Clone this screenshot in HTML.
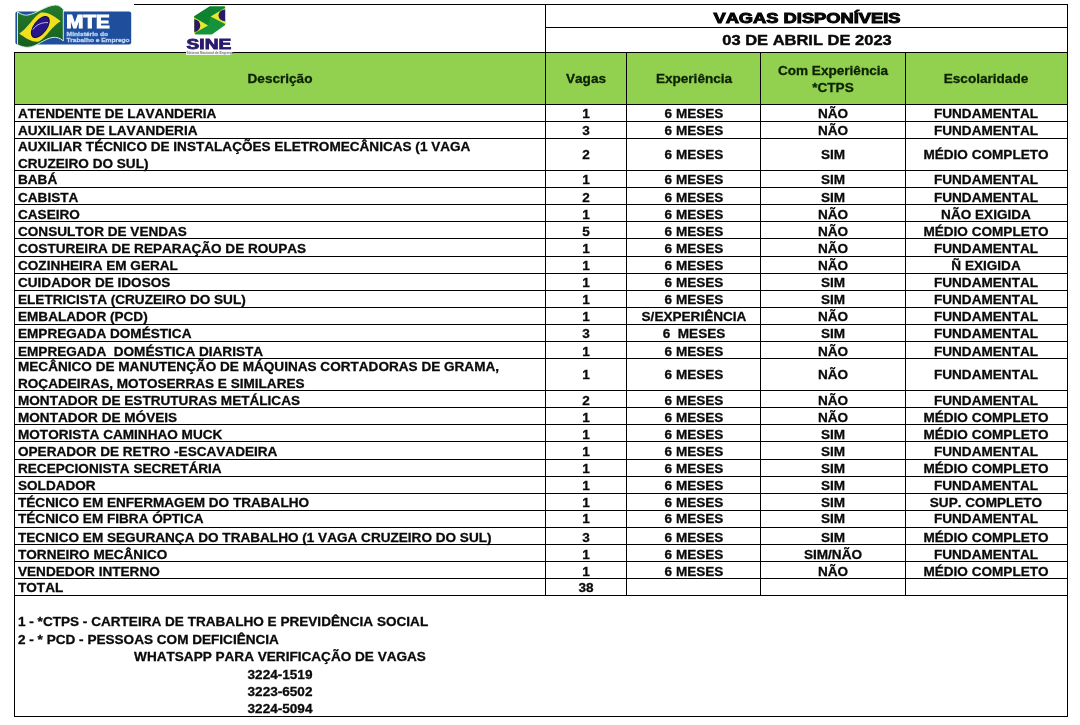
<!DOCTYPE html>
<html><head><meta charset="utf-8"><title>Vagas Disponíveis</title>
<style>
html,body{margin:0;padding:0;background:#fff}
body{width:1080px;height:725px;position:relative;overflow:hidden;font-family:"Liberation Sans",Arial,sans-serif;font-weight:bold;color:#0a0a0a;-webkit-text-stroke:0.3px currentColor}
.ln{position:absolute}
.t{font-kerning:none;position:absolute;white-space:nowrap;line-height:16px;height:16px}
.l{transform-origin:0 50%}
.c{width:600px;text-align:center;transform-origin:50% 50%}
</style></head><body>
<svg class="ln" style="left:0;top:0" width="260" height="58" viewBox="0 0 260 58" font-family="'Liberation Sans',Arial,sans-serif" font-weight="bold">
<defs><linearGradient id="fg" x1="0" y1="0" x2="0" y2="1"><stop offset="0" stop-color="#237a2b"/><stop offset="1" stop-color="#175e20"/></linearGradient></defs>
<rect x="15.4" y="11.4" width="115.8" height="33" rx="2.2" fill="#1f4e9c"/>
<path d="M17.5 11.8 C21 14.6 24.5 15.6 28 15 C37 13.4 46 5.4 55.5 5 C58.5 5 61 6.8 63.3 9.3 L63.3 40.9 C60 38 56.5 37 53 37.4 C44 38.6 37 46.8 28 47.3 C24 47.4 20.5 46.4 17.5 44.5 Z" fill="url(#fg)" stroke="#cdeee6" stroke-width="1"/>
<path d="M19.2 33.6 C27 29.5 33.5 16.5 41 12.6 C48 11.2 55 16.8 60.8 21.2 C53 25 46 37.5 39 41.6 C32 43 25 37.8 19.2 33.6 Z" fill="#f0e01e"/>
<ellipse cx="40.3" cy="27" rx="12.2" ry="6.3" transform="rotate(-53 40.3 27)" fill="#28178a" stroke="#140b3c" stroke-width="1"/>
<path d="M32.8 29.6 C36 24.8 42 22.2 48 22.6" fill="none" stroke="#cfc3ee" stroke-width="0.9"/>
<text x="66.2" y="27.9" font-size="17.5" fill="#fff" stroke="#fff" stroke-width="1" textLength="43.6" lengthAdjust="spacingAndGlyphs">MTE</text>
<text x="66.6" y="36.1" font-size="5.6" fill="#b9d3f3" stroke="#b9d3f3" stroke-width="0.3" textLength="41.5" lengthAdjust="spacingAndGlyphs">Ministério do</text>
<text x="66.6" y="42.1" font-size="5.6" fill="#b9d3f3" stroke="#b9d3f3" stroke-width="0.3" textLength="63" lengthAdjust="spacingAndGlyphs">Trabalho e Emprego</text>
<!-- SINE -->
<path d="M194.3 16.2 L209.6 6.5 L225.1 6.5 L225.2 25.1 L211.9 34.6 L195.6 34.6 L194.3 32.9 Z" fill="#14933a"/>
<path d="M194.3 16.2 L209.6 6.5 L225.1 6.5 L210.6 16.4 L208.1 25.4 L194.3 17.6 Z" fill="#0f8232"/>
<path d="M225.1 8 L210.6 16.4 L225.1 23.9 Z" fill="#e9e62e"/>
<path d="M225.1 9.5 A6.6 5.9 0 0 0 225.1 21.3 Z" fill="#26186a"/>
<path d="M194.3 17.4 L208.1 25.4 L194.3 33.2 Z" fill="#e9e62e"/>
<path d="M194.3 19.3 A6 6.3 0 0 1 194.3 31.9 Z" fill="#26186a"/>
<text x="186.6" y="48.6" font-size="14.7" fill="#2a1a6e" stroke="#2a1a6e" stroke-width="0.9" textLength="44.6" lengthAdjust="spacingAndGlyphs">SINE</text>
</svg>

<div class="ln" style="left:14.7px;top:52.2px;width:1052.7px;height:52.099999999999994px;background:#92d050"></div>
<div class="ln" style="left:134px;top:3.75px;width:934px;height:1.1px;background:#000"></div>
<div class="ln" style="left:545px;top:27.15px;width:523px;height:1.1px;background:#000"></div>
<div class="ln" style="left:14px;top:51.75px;width:1054px;height:1.1px;background:#000"></div>
<div class="ln" style="left:14px;top:103.75px;width:1054px;height:1.1px;background:#000"></div>
<div class="ln" style="left:14px;top:120.85px;width:1054px;height:1.1px;background:#000"></div>
<div class="ln" style="left:14px;top:138.25px;width:1054px;height:1.1px;background:#000"></div>
<div class="ln" style="left:14px;top:169.85px;width:1054px;height:1.1px;background:#000"></div>
<div class="ln" style="left:14px;top:186.95px;width:1054px;height:1.1px;background:#000"></div>
<div class="ln" style="left:14px;top:204.15px;width:1054px;height:1.1px;background:#000"></div>
<div class="ln" style="left:14px;top:221.15px;width:1054px;height:1.1px;background:#000"></div>
<div class="ln" style="left:14px;top:238.25px;width:1054px;height:1.1px;background:#000"></div>
<div class="ln" style="left:14px;top:255.75px;width:1054px;height:1.1px;background:#000"></div>
<div class="ln" style="left:14px;top:272.75px;width:1054px;height:1.1px;background:#000"></div>
<div class="ln" style="left:14px;top:289.85px;width:1054px;height:1.1px;background:#000"></div>
<div class="ln" style="left:14px;top:306.85px;width:1054px;height:1.1px;background:#000"></div>
<div class="ln" style="left:14px;top:323.75px;width:1054px;height:1.1px;background:#000"></div>
<div class="ln" style="left:14px;top:340.95px;width:1054px;height:1.1px;background:#000"></div>
<div class="ln" style="left:14px;top:357.85px;width:1054px;height:1.1px;background:#000"></div>
<div class="ln" style="left:14px;top:389.95px;width:1054px;height:1.1px;background:#000"></div>
<div class="ln" style="left:14px;top:406.85px;width:1054px;height:1.1px;background:#000"></div>
<div class="ln" style="left:14px;top:424.05px;width:1054px;height:1.1px;background:#000"></div>
<div class="ln" style="left:14px;top:441.25px;width:1054px;height:1.1px;background:#000"></div>
<div class="ln" style="left:14px;top:458.75px;width:1054px;height:1.1px;background:#000"></div>
<div class="ln" style="left:14px;top:475.85px;width:1054px;height:1.1px;background:#000"></div>
<div class="ln" style="left:14px;top:492.85px;width:1054px;height:1.1px;background:#000"></div>
<div class="ln" style="left:14px;top:510.05px;width:1054px;height:1.1px;background:#000"></div>
<div class="ln" style="left:14px;top:526.75px;width:1054px;height:1.1px;background:#000"></div>
<div class="ln" style="left:14px;top:543.85px;width:1054px;height:1.1px;background:#000"></div>
<div class="ln" style="left:14px;top:560.95px;width:1054px;height:1.1px;background:#000"></div>
<div class="ln" style="left:14px;top:578.15px;width:1054px;height:1.1px;background:#000"></div>
<div class="ln" style="left:14px;top:595.05px;width:1054px;height:1.1px;background:#000"></div>
<div class="ln" style="left:14px;top:715.85px;width:1054px;height:1.1px;background:#000"></div>
<div class="ln" style="left:14px;top:52px;width:1px;height:665px;background:#000"></div>
<div class="ln" style="left:1067px;top:4px;width:1px;height:713px;background:#000"></div>
<div class="ln" style="left:545px;top:4px;width:1px;height:592px;background:#000"></div>
<div class="ln" style="left:626px;top:52px;width:1px;height:544px;background:#000"></div>
<div class="ln" style="left:760px;top:52px;width:1px;height:544px;background:#000"></div>
<div class="ln" style="left:905px;top:52px;width:1px;height:544px;background:#000"></div>
<div class="t c" style="left:506.5px;top:9.78px;font-size:14.2px;transform:scaleX(1.29);-webkit-text-stroke:0.95px #000;">VAGAS DISPONÍVEIS</div>
<div class="t c" style="left:506.5px;top:32.31px;font-size:14.7px;transform:scaleX(1.122);-webkit-text-stroke:0.4px #000;">03 DE ABRIL DE 2023</div>
<div class="t c" style="left:-19.9px;top:71.10px;font-size:13.0px;transform:scaleX(1.044);color:#0c2200;">Descrição</div>
<div class="t c" style="left:286.1px;top:71.10px;font-size:13.0px;transform:scaleX(1.044);color:#0c2200;">Vagas</div>
<div class="t c" style="left:393.6px;top:71.10px;font-size:13.0px;transform:scaleX(1.044);color:#0c2200;">Experiência</div>
<div class="t c" style="left:532.9px;top:63.10px;font-size:13.0px;transform:scaleX(1.044);color:#0c2200;">Com Experiência</div>
<div class="t c" style="left:532.9px;top:80.10px;font-size:13.0px;transform:scaleX(1.044);color:#0c2200;">*CTPS</div>
<div class="t c" style="left:686.4px;top:71.10px;font-size:13.0px;transform:scaleX(1.044);color:#0c2200;">Escolaridade</div>
<div class="t l" style="left:17.7px;top:106.20px;font-size:13.0px;transform:scaleX(1.044);">ATENDENTE DE LAVANDERIA</div>
<div class="t c" style="left:286.1px;top:106.20px;font-size:13.0px;transform:scaleX(1.044);">1</div>
<div class="t c" style="left:393.6px;top:106.20px;font-size:13.0px;transform:scaleX(1.044);">6 MESES</div>
<div class="t c" style="left:532.9px;top:106.20px;font-size:13.0px;transform:scaleX(1.044);">NÃO</div>
<div class="t c" style="left:686.4px;top:106.20px;font-size:13.0px;transform:scaleX(1.044);">FUNDAMENTAL</div>
<div class="t l" style="left:17.7px;top:123.40px;font-size:13.0px;transform:scaleX(1.044);">AUXILIAR DE LAVANDERIA</div>
<div class="t c" style="left:286.1px;top:123.40px;font-size:13.0px;transform:scaleX(1.044);">3</div>
<div class="t c" style="left:393.6px;top:123.40px;font-size:13.0px;transform:scaleX(1.044);">6 MESES</div>
<div class="t c" style="left:532.9px;top:123.40px;font-size:13.0px;transform:scaleX(1.044);">NÃO</div>
<div class="t c" style="left:686.4px;top:123.40px;font-size:13.0px;transform:scaleX(1.044);">FUNDAMENTAL</div>
<div class="t l" style="left:17.7px;top:139.30px;font-size:13.0px;transform:scaleX(1.044);">AUXILIAR TÉCNICO DE INSTALAÇÕES ELETROMECÂNICAS (1 VAGA</div>
<div class="t l" style="left:17.7px;top:156.20px;font-size:13.0px;transform:scaleX(1.044);">CRUZEIRO DO SUL)</div>
<div class="t c" style="left:286.1px;top:147.25px;font-size:13.0px;transform:scaleX(1.044);">2</div>
<div class="t c" style="left:393.6px;top:147.25px;font-size:13.0px;transform:scaleX(1.044);">6 MESES</div>
<div class="t c" style="left:532.9px;top:147.25px;font-size:13.0px;transform:scaleX(1.044);">SIM</div>
<div class="t c" style="left:686.4px;top:147.25px;font-size:13.0px;transform:scaleX(1.044);">MÉDIO COMPLETO</div>
<div class="t l" style="left:17.7px;top:172.30px;font-size:13.0px;transform:scaleX(1.044);">BABÁ</div>
<div class="t c" style="left:286.1px;top:172.30px;font-size:13.0px;transform:scaleX(1.044);">1</div>
<div class="t c" style="left:393.6px;top:172.30px;font-size:13.0px;transform:scaleX(1.044);">6 MESES</div>
<div class="t c" style="left:532.9px;top:172.30px;font-size:13.0px;transform:scaleX(1.044);">SIM</div>
<div class="t c" style="left:686.4px;top:172.30px;font-size:13.0px;transform:scaleX(1.044);">FUNDAMENTAL</div>
<div class="t l" style="left:17.7px;top:189.80px;font-size:13.0px;transform:scaleX(1.044);">CABISTA</div>
<div class="t c" style="left:286.1px;top:189.80px;font-size:13.0px;transform:scaleX(1.044);">2</div>
<div class="t c" style="left:393.6px;top:189.80px;font-size:13.0px;transform:scaleX(1.044);">6 MESES</div>
<div class="t c" style="left:532.9px;top:189.80px;font-size:13.0px;transform:scaleX(1.044);">SIM</div>
<div class="t c" style="left:686.4px;top:189.80px;font-size:13.0px;transform:scaleX(1.044);">FUNDAMENTAL</div>
<div class="t l" style="left:17.7px;top:206.80px;font-size:13.0px;transform:scaleX(1.044);">CASEIRO</div>
<div class="t c" style="left:286.1px;top:206.80px;font-size:13.0px;transform:scaleX(1.044);">1</div>
<div class="t c" style="left:393.6px;top:206.80px;font-size:13.0px;transform:scaleX(1.044);">6 MESES</div>
<div class="t c" style="left:532.9px;top:206.80px;font-size:13.0px;transform:scaleX(1.044);">NÃO</div>
<div class="t c" style="left:686.4px;top:206.80px;font-size:13.0px;transform:scaleX(1.044);">NÃO EXIGIDA</div>
<div class="t l" style="left:17.7px;top:223.60px;font-size:13.0px;transform:scaleX(1.044);">CONSULTOR DE VENDAS</div>
<div class="t c" style="left:286.1px;top:223.60px;font-size:13.0px;transform:scaleX(1.044);">5</div>
<div class="t c" style="left:393.6px;top:223.60px;font-size:13.0px;transform:scaleX(1.044);">6 MESES</div>
<div class="t c" style="left:532.9px;top:223.60px;font-size:13.0px;transform:scaleX(1.044);">NÃO</div>
<div class="t c" style="left:686.4px;top:223.60px;font-size:13.0px;transform:scaleX(1.044);">MÉDIO COMPLETO</div>
<div class="t l" style="left:17.7px;top:240.90px;font-size:13.0px;transform:scaleX(1.044);">COSTUREIRA DE REPARAÇÃO DE ROUPAS</div>
<div class="t c" style="left:286.1px;top:240.90px;font-size:13.0px;transform:scaleX(1.044);">1</div>
<div class="t c" style="left:393.6px;top:240.90px;font-size:13.0px;transform:scaleX(1.044);">6 MESES</div>
<div class="t c" style="left:532.9px;top:240.90px;font-size:13.0px;transform:scaleX(1.044);">NÃO</div>
<div class="t c" style="left:686.4px;top:240.90px;font-size:13.0px;transform:scaleX(1.044);">FUNDAMENTAL</div>
<div class="t l" style="left:17.7px;top:257.70px;font-size:13.0px;transform:scaleX(1.044);">COZINHEIRA EM GERAL</div>
<div class="t c" style="left:286.1px;top:257.70px;font-size:13.0px;transform:scaleX(1.044);">1</div>
<div class="t c" style="left:393.6px;top:257.70px;font-size:13.0px;transform:scaleX(1.044);">6 MESES</div>
<div class="t c" style="left:532.9px;top:257.70px;font-size:13.0px;transform:scaleX(1.044);">NÃO</div>
<div class="t c" style="left:686.4px;top:257.70px;font-size:13.0px;transform:scaleX(1.044);">Ñ EXIGIDA</div>
<div class="t l" style="left:17.7px;top:274.60px;font-size:13.0px;transform:scaleX(1.044);">CUIDADOR DE IDOSOS</div>
<div class="t c" style="left:286.1px;top:274.60px;font-size:13.0px;transform:scaleX(1.044);">1</div>
<div class="t c" style="left:393.6px;top:274.60px;font-size:13.0px;transform:scaleX(1.044);">6 MESES</div>
<div class="t c" style="left:532.9px;top:274.60px;font-size:13.0px;transform:scaleX(1.044);">SIM</div>
<div class="t c" style="left:686.4px;top:274.60px;font-size:13.0px;transform:scaleX(1.044);">FUNDAMENTAL</div>
<div class="t l" style="left:17.7px;top:291.60px;font-size:13.0px;transform:scaleX(1.044);">ELETRICISTA (CRUZEIRO DO SUL)</div>
<div class="t c" style="left:286.1px;top:291.60px;font-size:13.0px;transform:scaleX(1.044);">1</div>
<div class="t c" style="left:393.6px;top:291.60px;font-size:13.0px;transform:scaleX(1.044);">6 MESES</div>
<div class="t c" style="left:532.9px;top:291.60px;font-size:13.0px;transform:scaleX(1.044);">SIM</div>
<div class="t c" style="left:686.4px;top:291.60px;font-size:13.0px;transform:scaleX(1.044);">FUNDAMENTAL</div>
<div class="t l" style="left:17.7px;top:308.60px;font-size:13.0px;transform:scaleX(1.044);">EMBALADOR (PCD)</div>
<div class="t c" style="left:286.1px;top:308.60px;font-size:13.0px;transform:scaleX(1.044);">1</div>
<div class="t c" style="left:393.6px;top:308.60px;font-size:13.0px;transform:scaleX(1.044);">S/EXPERIÊNCIA</div>
<div class="t c" style="left:532.9px;top:308.60px;font-size:13.0px;transform:scaleX(1.044);">NÃO</div>
<div class="t c" style="left:686.4px;top:308.60px;font-size:13.0px;transform:scaleX(1.044);">FUNDAMENTAL</div>
<div class="t l" style="left:17.7px;top:326.20px;font-size:13.0px;transform:scaleX(1.044);">EMPREGADA DOMÉSTICA</div>
<div class="t c" style="left:286.1px;top:326.20px;font-size:13.0px;transform:scaleX(1.044);">3</div>
<div class="t c" style="left:393.6px;top:326.20px;font-size:13.0px;transform:scaleX(1.044);">6&nbsp; MESES</div>
<div class="t c" style="left:532.9px;top:326.20px;font-size:13.0px;transform:scaleX(1.044);">SIM</div>
<div class="t c" style="left:686.4px;top:326.20px;font-size:13.0px;transform:scaleX(1.044);">FUNDAMENTAL</div>
<div class="t l" style="left:17.7px;top:343.50px;font-size:13.0px;transform:scaleX(1.044);">EMPREGADA&nbsp; DOMÉSTICA DIARISTA</div>
<div class="t c" style="left:286.1px;top:343.50px;font-size:13.0px;transform:scaleX(1.044);">1</div>
<div class="t c" style="left:393.6px;top:343.50px;font-size:13.0px;transform:scaleX(1.044);">6 MESES</div>
<div class="t c" style="left:532.9px;top:343.50px;font-size:13.0px;transform:scaleX(1.044);">NÃO</div>
<div class="t c" style="left:686.4px;top:343.50px;font-size:13.0px;transform:scaleX(1.044);">FUNDAMENTAL</div>
<div class="t l" style="left:17.7px;top:358.90px;font-size:13.0px;transform:scaleX(1.044);">MECÂNICO DE MANUTENÇÃO DE MÁQUINAS CORTADORAS DE GRAMA,</div>
<div class="t l" style="left:17.7px;top:375.80px;font-size:13.0px;transform:scaleX(1.044);">ROÇADEIRAS, MOTOSERRAS E SIMILARES</div>
<div class="t c" style="left:286.1px;top:367.05px;font-size:13.0px;transform:scaleX(1.044);">1</div>
<div class="t c" style="left:393.6px;top:367.05px;font-size:13.0px;transform:scaleX(1.044);">6 MESES</div>
<div class="t c" style="left:532.9px;top:367.05px;font-size:13.0px;transform:scaleX(1.044);">NÃO</div>
<div class="t c" style="left:686.4px;top:367.05px;font-size:13.0px;transform:scaleX(1.044);">FUNDAMENTAL</div>
<div class="t l" style="left:17.7px;top:392.50px;font-size:13.0px;transform:scaleX(1.044);">MONTADOR DE ESTRUTURAS METÁLICAS</div>
<div class="t c" style="left:286.1px;top:392.50px;font-size:13.0px;transform:scaleX(1.044);">2</div>
<div class="t c" style="left:393.6px;top:392.50px;font-size:13.0px;transform:scaleX(1.044);">6 MESES</div>
<div class="t c" style="left:532.9px;top:392.50px;font-size:13.0px;transform:scaleX(1.044);">NÃO</div>
<div class="t c" style="left:686.4px;top:392.50px;font-size:13.0px;transform:scaleX(1.044);">FUNDAMENTAL</div>
<div class="t l" style="left:17.7px;top:409.60px;font-size:13.0px;transform:scaleX(1.044);">MONTADOR DE MÓVEIS</div>
<div class="t c" style="left:286.1px;top:409.60px;font-size:13.0px;transform:scaleX(1.044);">1</div>
<div class="t c" style="left:393.6px;top:409.60px;font-size:13.0px;transform:scaleX(1.044);">6 MESES</div>
<div class="t c" style="left:532.9px;top:409.60px;font-size:13.0px;transform:scaleX(1.044);">NÃO</div>
<div class="t c" style="left:686.4px;top:409.60px;font-size:13.0px;transform:scaleX(1.044);">MÉDIO COMPLETO</div>
<div class="t l" style="left:17.7px;top:426.60px;font-size:13.0px;transform:scaleX(1.044);">MOTORISTA CAMINHAO MUCK</div>
<div class="t c" style="left:286.1px;top:426.60px;font-size:13.0px;transform:scaleX(1.044);">1</div>
<div class="t c" style="left:393.6px;top:426.60px;font-size:13.0px;transform:scaleX(1.044);">6 MESES</div>
<div class="t c" style="left:532.9px;top:426.60px;font-size:13.0px;transform:scaleX(1.044);">SIM</div>
<div class="t c" style="left:686.4px;top:426.60px;font-size:13.0px;transform:scaleX(1.044);">MÉDIO COMPLETO</div>
<div class="t l" style="left:17.7px;top:443.60px;font-size:13.0px;transform:scaleX(1.044);">OPERADOR DE RETRO -ESCAVADEIRA</div>
<div class="t c" style="left:286.1px;top:443.60px;font-size:13.0px;transform:scaleX(1.044);">1</div>
<div class="t c" style="left:393.6px;top:443.60px;font-size:13.0px;transform:scaleX(1.044);">6 MESES</div>
<div class="t c" style="left:532.9px;top:443.60px;font-size:13.0px;transform:scaleX(1.044);">SIM</div>
<div class="t c" style="left:686.4px;top:443.60px;font-size:13.0px;transform:scaleX(1.044);">FUNDAMENTAL</div>
<div class="t l" style="left:17.7px;top:460.60px;font-size:13.0px;transform:scaleX(1.044);">RECEPCIONISTA SECRETÁRIA</div>
<div class="t c" style="left:286.1px;top:460.60px;font-size:13.0px;transform:scaleX(1.044);">1</div>
<div class="t c" style="left:393.6px;top:460.60px;font-size:13.0px;transform:scaleX(1.044);">6 MESES</div>
<div class="t c" style="left:532.9px;top:460.60px;font-size:13.0px;transform:scaleX(1.044);">SIM</div>
<div class="t c" style="left:686.4px;top:460.60px;font-size:13.0px;transform:scaleX(1.044);">MÉDIO COMPLETO</div>
<div class="t l" style="left:17.7px;top:477.60px;font-size:13.0px;transform:scaleX(1.044);">SOLDADOR</div>
<div class="t c" style="left:286.1px;top:477.60px;font-size:13.0px;transform:scaleX(1.044);">1</div>
<div class="t c" style="left:393.6px;top:477.60px;font-size:13.0px;transform:scaleX(1.044);">6 MESES</div>
<div class="t c" style="left:532.9px;top:477.60px;font-size:13.0px;transform:scaleX(1.044);">SIM</div>
<div class="t c" style="left:686.4px;top:477.60px;font-size:13.0px;transform:scaleX(1.044);">FUNDAMENTAL</div>
<div class="t l" style="left:17.7px;top:494.50px;font-size:13.0px;transform:scaleX(1.044);">TÉCNICO EM ENFERMAGEM DO TRABALHO</div>
<div class="t c" style="left:286.1px;top:494.50px;font-size:13.0px;transform:scaleX(1.044);">1</div>
<div class="t c" style="left:393.6px;top:494.50px;font-size:13.0px;transform:scaleX(1.044);">6 MESES</div>
<div class="t c" style="left:532.9px;top:494.50px;font-size:13.0px;transform:scaleX(1.044);">SIM</div>
<div class="t c" style="left:686.4px;top:494.50px;font-size:13.0px;transform:scaleX(1.044);">SUP. COMPLETO</div>
<div class="t l" style="left:17.7px;top:511.20px;font-size:13.0px;transform:scaleX(1.044);">TÉCNICO EM FIBRA ÓPTICA</div>
<div class="t c" style="left:286.1px;top:511.20px;font-size:13.0px;transform:scaleX(1.044);">1</div>
<div class="t c" style="left:393.6px;top:511.20px;font-size:13.0px;transform:scaleX(1.044);">6 MESES</div>
<div class="t c" style="left:532.9px;top:511.20px;font-size:13.0px;transform:scaleX(1.044);">SIM</div>
<div class="t c" style="left:686.4px;top:511.20px;font-size:13.0px;transform:scaleX(1.044);">FUNDAMENTAL</div>
<div class="t l" style="left:17.7px;top:529.60px;font-size:13.0px;transform:scaleX(1.044);">TECNICO EM SEGURANÇA DO TRABALHO (1 VAGA CRUZEIRO DO SUL)</div>
<div class="t c" style="left:286.1px;top:529.60px;font-size:13.0px;transform:scaleX(1.044);">3</div>
<div class="t c" style="left:393.6px;top:529.60px;font-size:13.0px;transform:scaleX(1.044);">6 MESES</div>
<div class="t c" style="left:532.9px;top:529.60px;font-size:13.0px;transform:scaleX(1.044);">SIM</div>
<div class="t c" style="left:686.4px;top:529.60px;font-size:13.0px;transform:scaleX(1.044);">MÉDIO COMPLETO</div>
<div class="t l" style="left:17.7px;top:546.90px;font-size:13.0px;transform:scaleX(1.044);">TORNEIRO MECÂNICO</div>
<div class="t c" style="left:286.1px;top:546.90px;font-size:13.0px;transform:scaleX(1.044);">1</div>
<div class="t c" style="left:393.6px;top:546.90px;font-size:13.0px;transform:scaleX(1.044);">6 MESES</div>
<div class="t c" style="left:532.9px;top:546.90px;font-size:13.0px;transform:scaleX(1.044);">SIM/NÃO</div>
<div class="t c" style="left:686.4px;top:546.90px;font-size:13.0px;transform:scaleX(1.044);">FUNDAMENTAL</div>
<div class="t l" style="left:17.7px;top:563.80px;font-size:13.0px;transform:scaleX(1.044);">VENDEDOR INTERNO</div>
<div class="t c" style="left:286.1px;top:563.80px;font-size:13.0px;transform:scaleX(1.044);">1</div>
<div class="t c" style="left:393.6px;top:563.80px;font-size:13.0px;transform:scaleX(1.044);">6 MESES</div>
<div class="t c" style="left:532.9px;top:563.80px;font-size:13.0px;transform:scaleX(1.044);">NÃO</div>
<div class="t c" style="left:686.4px;top:563.80px;font-size:13.0px;transform:scaleX(1.044);">MÉDIO COMPLETO</div>
<div class="t l" style="left:17.7px;top:580.40px;font-size:13.0px;transform:scaleX(1.044);">TOTAL</div>
<div class="t c" style="left:286.1px;top:580.40px;font-size:13.0px;transform:scaleX(1.044);">38</div>
<div class="t l" style="left:17.7px;top:614.40px;font-size:13.0px;transform:scaleX(1.044);">1 - *CTPS - CARTEIRA DE TRABALHO E PREVIDÊNCIA SOCIAL</div>
<div class="t l" style="left:17.7px;top:632.10px;font-size:13.0px;transform:scaleX(1.044);">2 - * PCD - PESSOAS COM DEFICIÊNCIA</div>
<div class="t c" style="left:-19.9px;top:649.10px;font-size:13.0px;transform:scaleX(1.044);">WHATSAPP PARA VERIFICAÇÃO DE VAGAS</div>
<div class="t c" style="left:-19.9px;top:666.50px;font-size:13.0px;transform:scaleX(1.044);">3224-1519</div>
<div class="t c" style="left:-19.9px;top:683.50px;font-size:13.0px;transform:scaleX(1.044);">3223-6502</div>
<div class="t c" style="left:-19.9px;top:700.70px;font-size:13.0px;transform:scaleX(1.044);">3224-5094</div>
<div class="ln" style="left:186px;top:51.4px;width:46px;height:3.8px;background:#f4f8ee"></div>
<div class="t" style="left:186.5px;top:50.9px;font-size:3.3px;line-height:5px;height:5px;color:#777;-webkit-text-stroke:0">Sistema Nacional de Emprego</div>
</body></html>
